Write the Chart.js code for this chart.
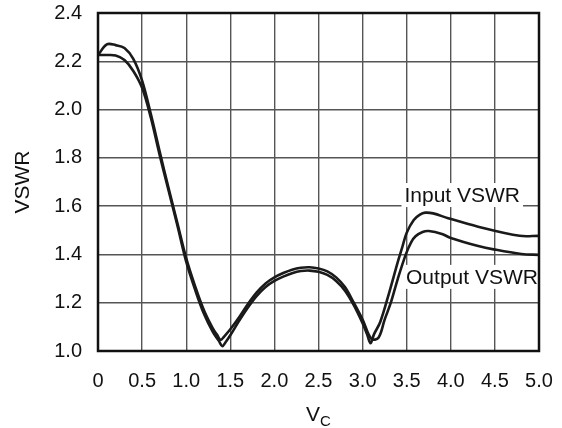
<!DOCTYPE html>
<html>
<head>
<meta charset="utf-8">
<script src="https://cdn.jsdelivr.net/npm/chart.js@4.4.1/dist/chart.umd.min.js"></script>
<style>
  html, body { margin: 0; padding: 0; background: #fff; }
  #wrap { width: 562px; height: 428px; }
</style>
</head>
<body>
<div id="wrap"><canvas id="vswrChart" width="562" height="428"></canvas></div>
<script>
// Datos
const vcInput = [0, 0.1, 0.2, 0.3, 0.4, 0.5, 0.6, 0.7, 0.8, 0.9, 1.0, 1.1, 1.2, 1.3, 1.37, 1.41, 1.45, 1.5, 1.6, 1.7, 1.8, 1.9, 2.0, 2.1, 2.2, 2.3, 2.4, 2.5, 2.6, 2.7, 2.8, 2.9, 3.0, 3.05, 3.09, 3.13, 3.2, 3.3, 3.4, 3.45, 3.5, 3.58, 3.65, 3.71, 3.8, 3.97, 4.31, 4.78, 5.0];
const vswrInput = [2.226, 2.226, 2.224, 2.205, 2.16, 2.09, 1.965, 1.81, 1.665, 1.52, 1.37, 1.255, 1.155, 1.08, 1.042, 1.02, 1.038, 1.065, 1.125, 1.18, 1.228, 1.265, 1.29, 1.308, 1.322, 1.331, 1.333, 1.328, 1.315, 1.29, 1.25, 1.19, 1.115, 1.07, 1.032, 1.07, 1.12, 1.24, 1.37, 1.43, 1.49, 1.543, 1.565, 1.573, 1.57, 1.55, 1.515, 1.477, 1.477];

const vcOutput = [0, 0.1, 0.2, 0.3, 0.4, 0.5, 0.6, 0.7, 0.8, 0.9, 1.0, 1.1, 1.2, 1.3, 1.35, 1.39, 1.43, 1.5, 1.6, 1.7, 1.8, 1.9, 2.0, 2.1, 2.2, 2.3, 2.4, 2.5, 2.6, 2.7, 2.8, 2.9, 3.0, 3.1, 3.18, 3.25, 3.32, 3.4, 3.49, 3.55, 3.6, 3.68, 3.75, 3.9, 4.0, 4.3, 4.5, 4.8, 5.0];
const vswrOutput = [2.225, 2.27, 2.267, 2.255, 2.21, 2.12, 1.98, 1.825, 1.675, 1.53, 1.385, 1.27, 1.17, 1.095, 1.067, 1.046, 1.06, 1.09, 1.14, 1.195, 1.243, 1.28, 1.305, 1.323, 1.337, 1.345, 1.347, 1.342, 1.33, 1.305, 1.265, 1.2, 1.13, 1.05, 1.055, 1.13, 1.2, 1.3, 1.4, 1.45, 1.475, 1.493, 1.497, 1.485, 1.468, 1.436, 1.42, 1.402, 1.398];

const xTicks = [0, 0.5, 1.0, 1.5, 2.0, 2.5, 3.0, 3.5, 4.0, 4.5, 5.0];
const yTicks = [1.0, 1.2, 1.4, 1.6, 1.8, 2.0, 2.2, 2.4];

const FONT = 'Liberation Sans, Arial, Helvetica, sans-serif';

function toPoints(xs, ys) {
    return xs.map((x, i) => ({ x: x, y: ys[i] }));
}

// Etiquetas de las curvas, marco y titulos
const decorPlugin = {
    id: 'decor',
    beforeDatasetsDraw(chart) {
        const { ctx, scales: { x, y } } = chart;
        ctx.save();
        ctx.font = '21px ' + FONT;
        ctx.textAlign = 'center';
        ctx.textBaseline = 'middle';
        [['Input VSWR', 4.13, 1.646], ['Output VSWR', 4.24, 1.307]].forEach(([txt, vx, vy]) => {
            const px = x.getPixelForValue(vx), py = y.getPixelForValue(vy);
            const w = ctx.measureText(txt).width + 6;
            ctx.fillStyle = '#fff';
            ctx.fillRect(px - w / 2, py - 12, w, 24);
            ctx.fillStyle = '#111';
            ctx.fillText(txt, px, py + 1);
        });
        ctx.restore();
    },
    afterDraw(chart) {
        const { ctx, chartArea: a } = chart;
        ctx.save();
        ctx.strokeStyle = '#111';
        ctx.lineWidth = 2.5;
        ctx.strokeRect(a.left, a.top, a.right - a.left, a.bottom - a.top);

        ctx.fillStyle = '#111';
        // titulo eje Y
        ctx.font = '21px ' + FONT;
        ctx.textAlign = 'center';
        ctx.textBaseline = 'middle';
        ctx.translate(23, (a.top + a.bottom) / 2);
        ctx.rotate(-Math.PI / 2);
        ctx.fillText('VSWR', 0, 0);
        ctx.setTransform(1, 0, 0, 1, 0, 0);
        // titulo eje X: V con subindice C
        const cx = (a.left + a.right) / 2;
        ctx.font = '21px ' + FONT;
        const wV = ctx.measureText('V').width;
        ctx.font = '15px ' + FONT;
        const wC = ctx.measureText('C').width;
        const x0 = cx - (wV + wC) / 2;
        ctx.textAlign = 'left';
        ctx.textBaseline = 'alphabetic';
        ctx.font = '21px ' + FONT;
        ctx.fillText('V', x0, 421);
        ctx.font = '15px ' + FONT;
        ctx.fillText('C', x0 + wV, 426);
        ctx.restore();
    }
};

const vswrChart = new Chart(document.getElementById('vswrChart'), {
    type: 'line',
    data: {
        datasets: [
            { label: 'Input VSWR', data: toPoints(vcInput, vswrInput), borderColor: '#1a1a1a', borderWidth: 2.6, pointRadius: 0, tension: 0.35, fill: false },
            { label: 'Output VSWR', data: toPoints(vcOutput, vswrOutput), borderColor: '#1a1a1a', borderWidth: 2.6, pointRadius: 0, tension: 0.35, fill: false }
        ]
    },
    options: {
        responsive: false, animation: false, devicePixelRatio: 1,
        layout: { padding: { top: 13, right: 23, left: 0, bottom: 0 } },
        plugins: { legend: { display: false }, tooltip: { enabled: false } },
        scales: {
            x: {
                type: 'linear', min: 0, max: 5,
                afterBuildTicks: s => { s.ticks = xTicks.map(v => ({ value: v })); },
                afterFit: s => { s.height = 77; s.paddingLeft = 0; s.paddingRight = 0; },
                grid: { color: '#555', lineWidth: 1.4, drawTicks: false, tickLength: 0 },
                border: { display: false },
                ticks: { padding: 18, color: '#111', font: { family: FONT, size: 20 }, maxRotation: 0,
                    callback: v => v === 0 ? '0' : v.toFixed(1) }
            },
            y: {
                min: 1.0, max: 2.4,
                afterBuildTicks: s => { s.ticks = yTicks.map(v => ({ value: v })); },
                afterFit: s => { s.width = 98; s.paddingTop = 0; s.paddingBottom = 0; },
                grid: { color: '#555', lineWidth: 1.4, drawTicks: false, tickLength: 0 },
                border: { display: false },
                ticks: { padding: 16, color: '#111', font: { family: FONT, size: 20 },
                    callback: v => v.toFixed(1) }
            }
        }
    },
    plugins: [decorPlugin]
});
</script>
</body>
</html>
